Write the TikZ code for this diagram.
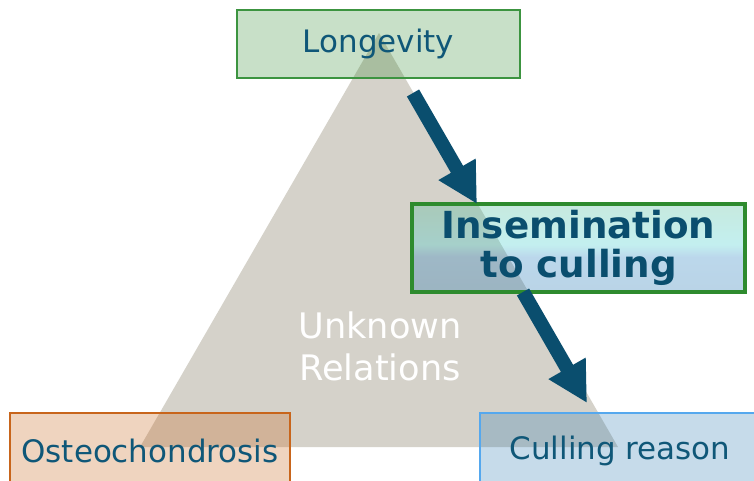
\documentclass[tikz,border=0pt]{standalone}
\usepackage{fontspec}
\setmainfont{DejaVu Sans}
\usetikzlibrary{arrows.meta,positioning}
\definecolor{txtblue}{HTML}{0F5778}
\definecolor{boldblue}{HTML}{0A4E6E}
\definecolor{tribeige}{HTML}{D5D2CA}
\definecolor{longline}{HTML}{3C9440}
\definecolor{longfill}{HTML}{2B882B}
\definecolor{osteoline}{HTML}{C8651B}
\definecolor{cullline}{HTML}{55A8EE}
\definecolor{cullfill}{HTML}{337EB4}
\definecolor{insemline}{HTML}{2E8B2E}
\definecolor{glassA}{RGB}{18,98,152}
\definecolor{glassB}{RGB}{32,125,192}
\definecolor{glassC}{RGB}{58,205,205}
\definecolor{glassD}{RGB}{82,162,85}
% glassy green-cyan-blue fill, bottom to top
\pgfdeclareverticalshading{glassy}{100bp}{
  color(0bp)=(glassA); color(45bp)=(glassB);
  color(52bp)=(glassC); color(100bp)=(glassD)}
\tikzset{
  traitbox/.style={draw, line width=1.5pt, fill opacity=0.28, text opacity=1, text=txtblue, align=center, inner sep=0pt, font=\fontsize{22}{27}\selectfont},
  linkarrow/.style={-{Triangle[length=1cm, width=1cm]}, line width=10pt, draw=boldblue},
}

\begin{document}
\begin{tikzpicture}[x=0.025cm, y=-0.025cm]
    \clip (0,0) rectangle (754,480);
    \fill[white] (0,0) rectangle (754,480);
    \fill[tribeige] (379,33) -- (140,447) -- (618,447) -- cycle;
    \node[text=white, align=center, font=\fontsize{25}{30}\selectfont] (unknown) at (380,346) {Unknown\\Relations};
    \node[traitbox, draw=longline, line width=1.9pt, fill=longfill, fill opacity=0.26, minimum width=7.08cm, minimum height=1.7cm] (long) at (378.5,44) {Longevity};
    \node[traitbox, draw=osteoline, fill=osteoline, minimum width=7cm, minimum height=1.9cm] (osteo) at (150,451) {Osteochondrosis};
    \node[traitbox, draw=cullline, fill=cullfill, minimum width=7cm, minimum height=1.9cm] (cull) at (620,451) {Culling reason};
    \node[traitbox, draw=insemline, line width=3.3pt, shade, shading=glassy, fill opacity=0.3, text=boldblue, minimum width=8.33cm, minimum height=2.2cm, font=\bfseries\fontsize{26.5}{28}\selectfont] (insem) at (578.5,248) {Insemination\\to culling};
    \coordinate (a1) at (413,93);
    \coordinate (t1) at (477,204);
    \coordinate (a2) at (523,292);
    \coordinate (t2) at (587,403);
    \draw[linkarrow] (a1) -- (t1);
    \draw[linkarrow] (a2) -- (t2);
\end{tikzpicture}
\end{document}
